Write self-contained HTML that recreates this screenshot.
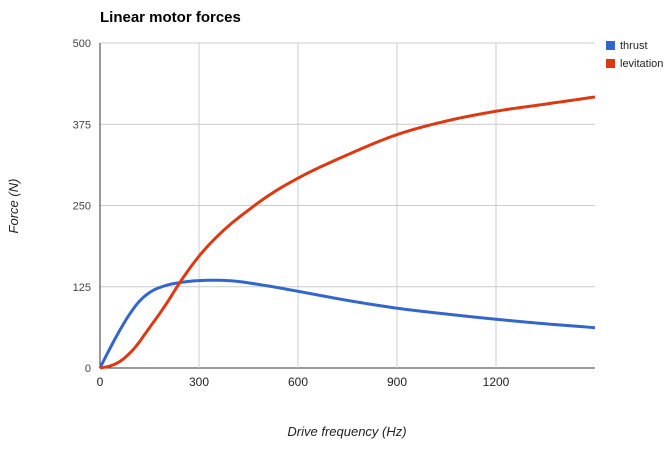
<!DOCTYPE html>
<html><head><meta charset="utf-8">
<style>
body{margin:0;background:#fff;font-family:"Liberation Sans",Arial,sans-serif}
svg text{font-family:"Liberation Sans",Arial,sans-serif}
</style></head>
<body>
<svg id="chart" width="668" height="444">
<text x="100" y="22" font-size="15" font-weight="bold" fill="#000">Linear motor forces</text>
<g id="grid"></g>
<g id="series"></g>
<text x="18" y="206" font-size="13" font-style="italic" fill="#222" transform="rotate(-90 18 206)" text-anchor="middle">Force (N)</text>
<text x="347" y="436" font-size="13" font-style="italic" fill="#222" text-anchor="middle">Drive frequency (Hz)</text>
<g><rect x="606" y="41" width="9" height="9" fill="#3366cc"/><text x="620" y="49" font-size="11" fill="#222">thrust</text></g>
<g><rect x="606" y="59" width="9" height="9" fill="#dc3912"/><text x="620" y="67" font-size="11" fill="#222">levitation</text></g>
</svg>
<script>
const xTicks=[0,300,600,900,1200];
const yTicks=[0,125,250,375,500];
const thrustX=[0,30,60,90,120,150,200,250,330,400,500,600,750,900,1050,1200,1350,1500];
const thrustY=[0,30,58,83,103,116,127,132,135,134,127,118,104,92,83,75,68,62];
const levX=[0,30,60,100,150,200,240,300,375,450,525,600,750,900,1050,1200,1350,1500];
const levY=[0,3,10,28,62,98,130,172,212,243,270,292,328,359,380,395,406,417];
const X0=100,X1=595,Y0=368,Y1=43;
const sx=v=>X0+v/1500*(X1-X0), sy=v=>Y0-v/500*(Y0-Y1);
const NS="http://www.w3.org/2000/svg";
const grid=document.getElementById('grid'), ser=document.getElementById('series');
function mk(tag,attrs,parent){const e=document.createElementNS(NS,tag);for(const k in attrs)e.setAttribute(k,attrs[k]);parent.appendChild(e);return e;}
yTicks.forEach(t=>{
  const l=mk('line',{x1:X0,x2:X1,y1:sy(t),y2:sy(t),stroke:t===0?'#333':'#ccc','stroke-width':1},grid);
  
  
  const tx=mk('text',{x:X0-9,y:sy(t)+4,'font-size':11,fill:'#444','text-anchor':'end'},grid);
  tx.textContent=t;
  
  
});
xTicks.forEach(t=>{
  if(t>0){const l=mk('line',{x1:sx(t),x2:sx(t),y1:Y1,y2:Y0,stroke:'#ccc','stroke-width':1},grid);
  
  }
  const tx=mk('text',{x:sx(t),y:Y0+18,'font-size':12,fill:'#222','text-anchor':'middle'},grid);
  tx.textContent=t;
  
  
});
mk('line',{x1:X0,x2:X0,y1:Y1,y2:Y0,stroke:'#333','stroke-width':1},grid);
function path(xs,ys){
  const n=xs.length,m=[];
  for(let i=0;i<n;i++){
    if(i===0)m.push((ys[1]-ys[0])/(xs[1]-xs[0]));
    else if(i===n-1)m.push((ys[n-1]-ys[n-2])/(xs[n-1]-xs[n-2]));
    else{const d0=(ys[i]-ys[i-1])/(xs[i]-xs[i-1]),d1=(ys[i+1]-ys[i])/(xs[i+1]-xs[i]);
      const h0=xs[i]-xs[i-1],h1=xs[i+1]-xs[i];m.push((d0*h1+d1*h0)/(h0+h1));}
  }
  let d='';
  for(let i=0;i<n-1;i++){
    const h=xs[i+1]-xs[i],steps=Math.max(4,Math.ceil(h/5));
    for(let s=0;s<=steps;s++){
      if(i>0&&s===0)continue;
      const t=s/steps,t2=t*t,t3=t2*t;
      const y=(2*t3-3*t2+1)*ys[i]+(t3-2*t2+t)*h*m[i]+(-2*t3+3*t2)*ys[i+1]+(t3-t2)*h*m[i+1];
      const x=xs[i]+t*h;
      d+=(d?' L':'M')+sx(x).toFixed(2)+','+sy(y).toFixed(2);
    }
  }
  return d;
}
const t=mk('path',{d:path(thrustX,thrustY),fill:'none',stroke:'#3366cc','stroke-width':3,'stroke-linejoin':'round'},ser);


const lv=mk('path',{d:path(levX,levY),fill:'none',stroke:'#dc3912','stroke-width':3,'stroke-linejoin':'round'},ser);


</script>
</body></html>
